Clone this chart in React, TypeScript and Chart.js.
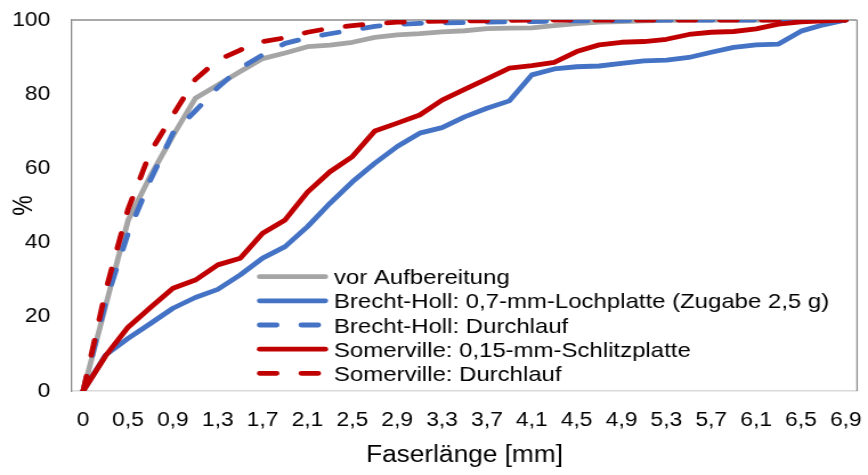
import React, { useEffect, useRef } from "react";
import { Chart, registerables } from "chart.js";

Chart.register(...registerables);

// ---- data ----
const categories = [
  "0", "0,3", "0,5", "0,7", "0,9", "1,1", "1,3", "1,5", "1,7", "1,9",
  "2,1", "2,3", "2,5", "2,7", "2,9", "3,1", "3,3", "3,5", "3,7", "3,9",
  "4,1", "4,3", "4,5", "4,7", "4,9", "5,1", "5,3", "5,5", "5,7", "5,9",
  "6,1", "6,3", "6,5", "6,7", "6,9",
];

const vorAufbereitung = [
  0, 23, 46, 58, 68.8, 78.9, 82.5, 86.1, 89.6, 91.1,
  92.8, 93.2, 94.0, 95.3, 96.0, 96.3, 96.8, 97.1, 97.7, 97.8,
  97.9, 98.5, 99.0, 99.4, 99.6, 99.8, 99.9, 100, 100, 100,
  100, 100, 100, 100, 100,
];

const brechtLochplatte = [
  0, 9.7, 14.2, 18.2, 22.3, 25.2, 27.4, 31.3, 35.8, 38.9,
  44.3, 50.6, 56.4, 61.4, 65.9, 69.5, 71.0, 73.9, 76.2, 78.2,
  85.2, 86.8, 87.4, 87.6, 88.3, 89.0, 89.2, 89.9, 91.3, 92.6,
  93.3, 93.5, 97.0, 98.7, 100,
];

const brechtDurchlauf = [
  0, 24, 42.5, 56.9, 69.5, 75.5, 81.8, 87.0, 90.6, 93.7,
  95.2, 96.3, 97.3, 98.3, 98.8, 99.1, 99.2, 99.3, 99.4, 99.5,
  99.6, 99.7, 99.8, 99.8, 99.9, 100, 100, 100, 100, 100,
  100, 100, 100, 100, 100,
];

const somervilleSchlitzplatte = [
  0, 9.5, 17.2, 22.5, 27.7, 29.9, 34.0, 35.8, 42.5, 46.1,
  53.6, 59.1, 63.2, 70.1, 72.2, 74.4, 78.4, 81.3, 84.1, 87.0,
  87.7, 88.6, 91.5, 93.3, 94.0, 94.2, 94.8, 96.1, 96.7, 96.9,
  97.6, 98.9, 99.5, 99.8, 100,
];

const somervilleDurchlauf = [
  0, 27, 49, 64.5, 74.4, 84.0, 89.2, 91.9, 94.2, 95.2,
  96.7, 97.8, 98.5, 99.0, 99.4, 99.6, 99.7, 99.8, 99.8, 99.9,
  100, 100, 100, 100, 100, 100, 100, 100, 100, 100,
  100, 100, 100, 100, 100,
];

const seriesNames = [
  "vor Aufbereitung",
  "Brecht-Holl: 0,7-mm-Lochplatte (Zugabe 2,5 g)",
  "Brecht-Holl: Durchlauf",
  "Somerville: 0,15-mm-Schlitzplatte",
  "Somerville: Durchlauf",
];

const yTicks = [0, 20, 40, 60, 80, 100];

// ---- styling ----
const GREY = "#A5A5A5";
const BLUE = "#4472C4";
const RED = "#C00000";
const FONT = "'Liberation Sans', Arial, sans-serif";
const DASH = [15, 21.5];
const LW = 4.8;

const CANVAS_W = 761; // drawn narrower, displayed stretched to 868
const CANVAS_H = 475;

const framePlugin = {
  id: "frame",
  beforeDatasetsDraw(chart: any) {
    const { ctx, chartArea } = chart;
    const { left, top, right, bottom } = chartArea;
    ctx.save();
    ctx.strokeStyle = "#8C8C8C";
    ctx.lineWidth = 1.5;
    ctx.beginPath();
    ctx.moveTo(left, top);
    ctx.lineTo(right, top);
    ctx.stroke();
    ctx.lineWidth = 1.3;
    ctx.beginPath();
    ctx.moveTo(right, top);
    ctx.lineTo(right, bottom);
    ctx.stroke();
    ctx.restore();
  },
};

const legendPlugin = {
  id: "insideLegend",
  afterDraw(chart: any) {
    const { ctx, chartArea } = chart;
    const x0 = chartArea.left + 164.5;
    const x1 = chartArea.left + 222.2;
    const tx = chartArea.left + 229.7;
    const y0 = 276.7;
    const dy = 24.15;
    ctx.save();
    chart.data.datasets.forEach((ds: any, i: number) => {
      const y = y0 + i * dy;
      ctx.strokeStyle = ds.borderColor;
      ctx.lineWidth = LW;
      ctx.lineCap = "round";
      ctx.setLineDash(ds.borderDash || []);
      ctx.beginPath();
      ctx.moveTo(x0, y);
      ctx.lineTo(x1, y);
      ctx.stroke();
      ctx.setLineDash([]);
      ctx.fillStyle = "#000";
      ctx.font = `21px ${FONT}`;
      ctx.textAlign = "left";
      ctx.textBaseline = "alphabetic";
      ctx.fillText(ds.label, tx, y + 7.5);
    });
    ctx.restore();
  },
};

export default function App() {
  const canvasRef = useRef<HTMLCanvasElement | null>(null);

  useEffect(() => {
    const canvas = canvasRef.current;
    if (!canvas) return;
    const mk = (label: string, data: number[], color: string, dashed: boolean, order: number) => ({
      label,
      data,
      borderColor: color,
      backgroundColor: color,
      borderWidth: LW,
      borderDash: dashed ? DASH : [],
      borderCapStyle: "round",
      borderJoinStyle: "round",
      pointRadius: 0,
      pointHoverRadius: 0,
      tension: 0,
      fill: false,
      order,
    });
    const chart = new Chart(canvas, {
      type: "line",
      data: {
        labels: categories,
        datasets: [
          mk(seriesNames[0], vorAufbereitung, GREY, false, 4),
          mk(seriesNames[1], brechtLochplatte, BLUE, false, 3),
          mk(seriesNames[2], brechtDurchlauf, BLUE, true, 2),
          mk(seriesNames[3], somervilleSchlitzplatte, RED, false, 1),
          mk(seriesNames[4], somervilleDurchlauf, RED, true, 0),
        ] as any,
      },
      options: {
        responsive: false,
        animation: false,
        devicePixelRatio: 1,
        layout: { padding: { top: 20, right: 9.6, left: 0, bottom: 0 } },
        plugins: {
          legend: { display: false },
          tooltip: { enabled: false },
          title: { display: false },
        },
        scales: {
          x: {
            type: "category",
            offset: true,
            grid: { display: false, drawTicks: false },
            border: { display: true, color: "#D9D9D9", width: 1.5 },
            ticks: {
              autoSkip: false,
              maxRotation: 0,
              minRotation: 0,
              padding: 17,
              color: "#000",
              font: { family: FONT, size: 20 },
              callback: (_v: any, i: number) => (i % 2 === 0 ? categories[i] : ""),
            },
            title: {
              display: true,
              text: "Faserlänge [mm]",
              color: "#000",
              font: { family: FONT, size: 23 },
              padding: { top: 0, bottom: 6 },
            },
            afterFit: (scale: any) => {
              scale.height = 84;
              scale.paddingLeft = 0;
              scale.paddingRight = 0;
            },
          },
          y: {
            min: 0,
            max: 100,
            afterBuildTicks: (scale: any) => {
              scale.ticks = yTicks.map((v) => ({ value: v }));
            },
            grid: { display: false, drawTicks: false },
            border: { display: true, color: "#8C8C8C", width: 1.3 },
            ticks: {
              padding: 19,
              color: "#000",
              font: { family: FONT, size: 20 },
            },
            title: {
              display: true,
              text: "%",
              color: "#000",
              font: { family: FONT, size: 23 },
              padding: { top: 8, bottom: 0 },
            },
            afterFit: (scale: any) => {
              scale.width = 63.1;
              scale.paddingTop = 0;
              scale.paddingBottom = 0;
            },
          },
        },
      },
      plugins: [framePlugin, legendPlugin],
    });
    return () => chart.destroy();
  }, []);

  return (
    <div style={{ position: "fixed", left: 0, top: 0, width: 868, height: 475, background: "#fff" }}>
      <canvas
        ref={canvasRef}
        width={CANVAS_W}
        height={CANVAS_H}
        style={{ display: "block", width: "868px", height: "475px" }}
      />
    </div>
  );
}
